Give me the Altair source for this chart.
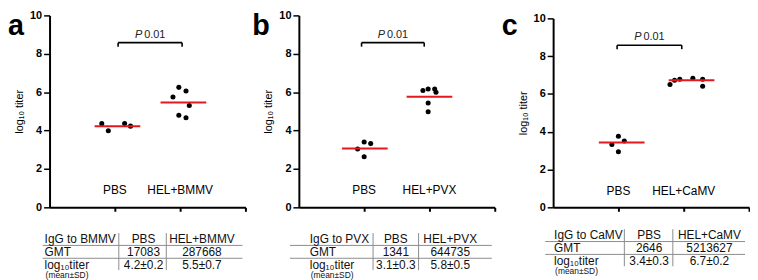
import altair as alt
import pandas as pd

FONT = "Liberation Sans"

# ---------------- data ----------------
panel_letters = ["a", "b", "c"]
viruses = ["BMMV", "PVX", "CaMV"]

pbs_titer = [[4.36, 3.99, 4.37, 4.23],
             [3.04, 3.40, 3.32, 2.63],
             [3.76, 3.51, 3.32, 2.94]]
pbs_jitter = [[-0.20, -0.10, 0.15, 0.24],
              [-0.10, 0.00, 0.10, 0.00],
              [0.00, 0.09, -0.10, 0.00]]
hel_titer = [[5.75, 6.25, 6.06, 5.31, 4.80, 4.67],
             [6.09, 6.17, 6.17, 6.00, 5.44, 4.98],
             [6.50, 6.73, 6.78, 6.83, 6.78, 6.41]]
hel_jitter = [[-0.11, -0.02, 0.09, 0.14, -0.02, 0.09],
              [-0.10, -0.02, 0.08, 0.10, -0.02, -0.02],
              [-0.21, -0.14, -0.06, 0.14, 0.29, 0.29]]
mean_titer = [[4.23, 5.46], [3.07, 5.76], [3.43, 6.73]]
mean_center = [[1.04, 2.05], [1.01, 2.00], [1.05, 2.12]]
bracket_span = [[1.05, 2.03], [0.96, 1.92], [0.98, 1.97]]
p_text = "0.01"
gmt = [["17083", "287668"], ["1341", "644735"], ["2646", "5213627"]]
log_msd = [["4.2±0.2", "5.5±0.7"], ["3.1±0.3", "5.8±0.5"], ["3.4±0.3", "6.7±0.2"]]

# ---------------- layout / style ----------------
W, H = 198, 194
TH = 66
ROW_PX = 13.0
ROW0_PX = 27.0
top_off = [0, 0, 3]
letter_off = [42, 47, 52]
table_shift = [0.0, 0.0, 0.3]
label_x = [-5, 11, 1]
pbs_x = [95, 98, 97]
hel_x = [154, 153, 158]
rule_x0 = [-7, -9, -8]
rule_x1 = [195, 195, 194]
sep1_x = [70, 75, 72]
sep2_x = [118, 121, 121]
RED = "#e3181d"
GRAY = "#8c8c8c"


def make_plot(i):
    xs = alt.Scale(domain=[0, 3], nice=False, zero=False)
    ys = alt.Scale(domain=[0, 10], nice=False, zero=False, range=[H, top_off[i]])
    xaxis = alt.Axis(values=[1, 2, 3], labels=False, ticks=True, tickSize=4, tickWidth=2,
                     domainWidth=2, domainColor="black", tickColor="black", grid=False, title=None)
    yaxis = alt.Axis(values=[0, 2, 4, 6, 8, 10], labelFontWeight="bold", labelFontSize=11,
                     labelColor="black", labelPadding=2, tickSize=6, tickWidth=1.5,
                     tickColor="black", domainWidth=2, domainColor="black", grid=False,
                     title="log₁₀ titer", titleFontSize=11, titleFontWeight="normal",
                     titleColor="black", titlePadding=5)

    def X(f):
        return alt.X(f, scale=xs, axis=xaxis)

    def Y(f):
        return alt.Y(f, scale=ys, axis=yaxis)

    pts = pd.DataFrame({
        "x": [1 + j for j in pbs_jitter[i]] + [2 + j for j in hel_jitter[i]],
        "titer": pbs_titer[i] + hel_titer[i],
    })
    points = alt.Chart(pts).mark_circle(size=26, color="black", opacity=1).encode(
        x=X("x:Q"), y=Y("titer:Q"))

    means = pd.DataFrame({
        "x": [c - 0.35 for c in mean_center[i]],
        "x2": [c + 0.35 for c in mean_center[i]],
        "y": mean_titer[i],
    })
    mean_rules = alt.Chart(means).mark_rule(color=RED, strokeWidth=2).encode(
        x=X("x:Q"), x2="x2:Q", y=Y("y:Q"))

    bx1, bx2 = bracket_span[i]
    by, bt = 8.58, 8.37
    br = pd.DataFrame({"x": [bx1, bx1, bx2], "x2": [bx2, bx1, bx2],
                       "y": [by, by, by], "y2": [by, bt, bt]})
    bracket = alt.Chart(br).mark_rule(color="black", strokeWidth=1.6).encode(
        x=X("x:Q"), x2="x2:Q", y=Y("y:Q"), y2="y2:Q")

    pc = pd.DataFrame({"x": [(bx1 + bx2) / 2], "p": ["P"], "v": [p_text]})
    p_it = alt.Chart(pc).mark_text(fontStyle="italic", align="right", baseline="middle",
                                    dx=-8, fontSize=11, color="#222").encode(
        x=X("x:Q"), y=alt.YDatum(9.0, scale=ys, axis=yaxis), text="p:N")
    p_val = alt.Chart(pc).mark_text(align="left", baseline="middle", dx=-6,
                                     fontSize=11, color="#222").encode(
        x=X("x:Q"), y=alt.YDatum(9.0, scale=ys, axis=yaxis), text="v:N")

    cats = pd.DataFrame({"x": [1, 2], "label": ["PBS", "HEL+" + viruses[i]]})
    cat_text = alt.Chart(cats).mark_text(fontSize=12, baseline="middle", align="center",
                                          color="black").encode(
        x=X("x:Q"), y=alt.YDatum(0.88, scale=ys, axis=yaxis), text="label:N")

    letter = alt.Chart(pd.DataFrame({"t": [panel_letters[i]]})).mark_text(
        fontSize=29, fontWeight="bold", align="left", baseline="alphabetic",
        color="black").encode(x=alt.value(-letter_off[i]), y=alt.value(20), text="t:N")

    return alt.layer(points, mean_rules, bracket, p_it, p_val, cat_text, letter).properties(
        width=W, height=H)


def make_table(i):
    tdf = pd.DataFrame({
        "row": [0, 1, 2],
        "label": ["IgG to " + viruses[i], "GMT", "log₁₀titer"],
        "pbs": ["PBS", gmt[i][0], log_msd[i][0]],
        "hel": ["HEL+" + viruses[i], gmt[i][1], log_msd[i][1]],
    })
    sh = table_shift[i]
    d0 = -ROW0_PX / ROW_PX + sh
    d1 = (TH - ROW0_PX) / ROW_PX + sh
    ys = alt.Scale(domain=[d0, d1], reverse=True, nice=False, zero=False)
    Y = alt.Y("row:Q", scale=ys, axis=None)
    base = alt.Chart(tdf)
    common = dict(fontSize=12, baseline="middle", color="#111")
    t0 = base.mark_text(align="left", **common).encode(
        x=alt.value(label_x[i]), y=Y, text="label:N")
    t1 = base.mark_text(align="center", **common).encode(
        x=alt.value(pbs_x[i]), y=Y, text="pbs:N")
    t2 = base.mark_text(align="center", **common).encode(
        x=alt.value(hel_x[i]), y=Y, text="hel:N")
    note = alt.Chart(pd.DataFrame({"t": ["(mean±SD)"]})).mark_text(
        align="left", baseline="middle", fontSize=8.5, color="#111").encode(
        x=alt.value(label_x[i] + 1), y=alt.YDatum(2.82, scale=ys, axis=None), text="t:N")
    hl = alt.Chart(pd.DataFrame({"b": [0.5, 1.5]})).mark_rule(
        color=GRAY, strokeWidth=1).encode(
        x=alt.value(rule_x0[i]), x2=alt.value(rule_x1[i]),
        y=alt.Y("b:Q", scale=ys, axis=None))
    seps = []
    for sx in (sep1_x[i], sep2_x[i]):
        seps.append(alt.Chart(pd.DataFrame({"y": [-0.46], "y2": [2.42]})).mark_rule(
            color=GRAY, strokeWidth=1).encode(
            x=alt.value(sx), y=alt.Y("y:Q", scale=ys, axis=None), y2="y2:Q"))
    return alt.layer(hl, *seps, t0, t1, t2, note).properties(width=W, height=TH)


panels = [alt.vconcat(make_plot(i), make_table(i), spacing=0) for i in range(3)]

chart = alt.hconcat(*panels, spacing=6).properties(
    padding={"left": 0, "top": 0, "right": 0, "bottom": 0}
).configure(font=FONT).configure_view(stroke=None)

chart.save("out.html", embed_options={"renderer": "svg", "actions": False})
